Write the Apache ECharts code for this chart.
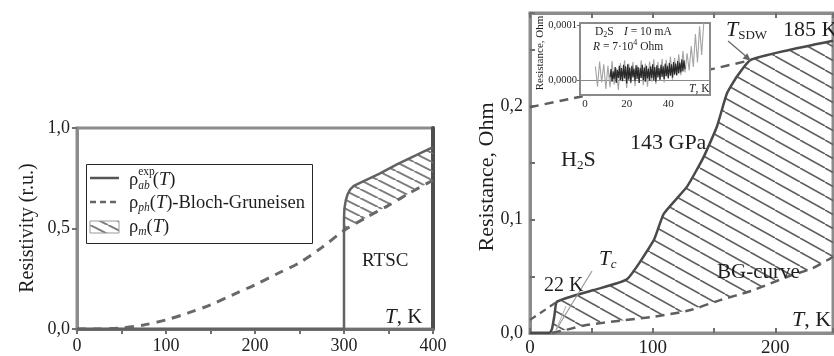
<!DOCTYPE html>
<html>
<head>
<meta charset="utf-8">
<script src="https://cdn.jsdelivr.net/npm/echarts@6/dist/echarts.min.js"></script>
<style>
  html, body { margin: 0; padding: 0; background: #fff; }
  #c { width: 834px; height: 356px; }
</style>
</head>
<body>
<div id="c"></div>
<script>
// ---------- Left panel: resistivity (relative units) vs temperature ----------
const leftExpT   = [0, 300, 300, 300.5, 302, 304, 307, 311, 318, 340, 360, 380, 400];
const leftExpRho = [0, 0, 0.55, 0.6, 0.64, 0.67, 0.695, 0.712, 0.727, 0.773, 0.82, 0.862, 0.905];
const leftBgT    = [0, 25, 50, 75, 100, 125, 150, 175, 200, 225, 250, 275, 300, 325, 350, 375, 400];
const leftBgRho  = [0, 0, 0.005, 0.02, 0.045, 0.08, 0.12, 0.17, 0.22, 0.275, 0.33, 0.405, 0.49, 0.555, 0.615, 0.68, 0.74];
const leftXTicks = [0, 100, 200, 300, 400];
const leftYTicks = [0, 0.5, 1.0];
const leftHatchFrom = 300;

// ---------- Right panel: H2S resistance at 143 GPa ----------
const rightExpT = [0, 16, 18, 20, 22, 52, 79, 101, 109, 128, 141.5, 152.4, 160.5, 168.7, 179.6, 209.5, 247];
const rightExpR = [0, 0, 0.004, 0.016, 0.0276, 0.0379, 0.0473, 0.082, 0.105, 0.129, 0.155, 0.182, 0.211, 0.226, 0.2405, 0.249, 0.2575];
const rightSdwT = [0, 40, 150, 180];
const rightSdwR = [0.199, 0.208, 0.233, 0.2405];
const rightTcT  = [0, 22];
const rightTcR  = [0.0115, 0.0276];
const rightBgT  = [18, 30, 46, 75, 101, 130, 155, 180, 210, 230, 247];
const rightBgR  = [0, 0.003, 0.007, 0.011, 0.0144, 0.02, 0.029, 0.037, 0.0496, 0.057, 0.0672];
const rightXTicks = [0, 100, 200];
const rightYTicks = [0, 0.1, 0.2];
const rightHatchFrom = 22;

// ---------- Inset: D2S, resistance in units of 1e-5 Ohm ----------
const insetLightT = [5, 6, 7, 8, 9, 10, 11, 12, 13, 14, 15, 16, 17, 18, 19, 20, 21, 22, 23, 24, 25, 26, 27, 28, 29, 30,
                     31, 32, 33, 34, 35, 36, 37, 38, 39, 40, 41, 42, 43, 44, 45, 46, 47, 48, 49, 50, 51, 52, 53, 54, 55, 56, 57];
const insetLightR = [2.5, -1.2, 3.4, -0.4, 2.9, -1.6, 2.6, -1.3, 3.5, -0.8, 2.2, -1.8, 3.1, -0.2, 3.6, -1.4, 3.0, -0.6, 3.3, -1.1, 2.8, -0.5, 3.6, -0.9, 3.0, -1.2,
                     3.4, -0.3, 3.8, -0.7, 3.3, -0.1, 3.9, -0.4, 3.7, 0.2, 4.3, 0.1, 4.0, 0.8, 4.7, 0.9, 5.3, 1.4, 4.9, 1.8, 6.2, 2.4, 8.4, 3.2, 9.8, 4.6, 10.4];
const insetDarkT = [12, 12.5, 13, 13.5, 14, 14.5, 15, 15.5, 16, 16.5, 17, 17.5, 18, 18.5, 19, 19.5, 20, 20.5, 21, 21.5, 22, 22.5, 23, 23.5, 24, 24.5,
                    25, 25.5, 26, 26.5, 27, 27.5, 28, 28.5, 29, 29.5, 30, 30.5, 31, 31.5, 32, 32.5, 33, 33.5, 34, 34.5, 35, 35.5, 36, 36.5,
                    37, 37.5, 38, 38.5, 39, 39.5, 40, 40.5, 41, 41.5, 42, 42.5, 43, 43.5, 44, 44.5, 45, 45.5, 46, 46.5, 47, 47.5, 48];
const insetDarkR = [0.5, 2.0, -0.3, 1.6, 0.2, 2.4, -0.5, 1.9, 0.4, 2.6, 0.0, 2.2, -0.2, 2.8, 0.3, 2.5, -0.6, 2.9, 0.1, 2.3, -0.4, 2.6, 0.5, 2.1, -0.2, 2.7,
                    0.2, 2.4, -0.5, 2.2, 0.4, 2.8, 0.0, 2.3, -0.3, 2.6, 0.3, 2.1, -0.1, 2.5, 0.4, 2.9, 0.0, 2.4, -0.3, 2.7, 0.5, 2.2, 0.1, 2.8,
                    0.6, 2.5, 0.2, 3.0, 0.7, 2.6, 0.4, 3.1, 0.8, 2.9, 0.5, 3.3, 1.0, 3.0, 0.9, 3.5, 1.2, 3.2, 1.4, 3.8, 1.6, 3.6, 2.0];
const insetXTicks = [0, 20, 40];
const insetYTicks = [0, 10];

// ---------- helpers ----------
const FONT = '"Liberation Serif", "Times New Roman", serif';
const zip = (xs, ys) => xs.map((x, i) => [x, ys[i]]);
const comma = (v, d) => v.toFixed(d).replace('.', ',');

function hatchPattern(w, h, color, lw) {
  const c = document.createElement('canvas');
  c.width = w; c.height = h;
  const g = c.getContext('2d');
  g.strokeStyle = color; g.lineWidth = lw; g.lineCap = 'butt';
  for (const dx of [-w, 0, w]) {
    g.beginPath(); g.moveTo(dx, 0); g.lineTo(dx + w, h); g.stroke();
  }
  return { image: c, repeat: 'repeat' };
}
const leftHatch  = hatchPattern(18, 9, '#7c7c7c', 2);
const rightHatch = hatchPattern(25, 14, '#606060', 1.6);

// polygon between an upper curve and a lower curve, from a start temperature on
function bandPolygon(upT, upV, loT, loV, from) {
  const upper = zip(upT, upV).filter(p => p[0] >= from && p[1] > 0);
  const lower = zip(loT, loV).filter(p => p[0] >= from - 4).reverse();
  return upper.concat(lower);
}

const mctx = document.createElement('canvas').getContext('2d');
function fontOf(size, italic) { return (italic ? 'italic ' : '') + size + 'px ' + FONT; }
// lays out text pieces left to right (sub/superscripts via dy)
function run(x, y, segs, color) {
  const out = []; let cx = x;
  for (const s of segs) {
    const f = fontOf(s.size, s.italic);
    out.push({ type: 'text', z: 60, silent: true,
      style: { x: cx + (s.dx || 0), y: y + (s.dy || 0), text: s.t, font: f, fill: color || '#1e1e1e',
               align: 'left', verticalAlign: 'middle' } });
    mctx.font = f;
    if (!s.hold) cx += mctx.measureText(s.t).width + (s.dx || 0);
  }
  return out;
}
function vtext(x, y, text, size) {
  return { type: 'text', z: 60, x: x, y: y, rotation: Math.PI / 2, silent: true,
    style: { x: 0, y: 0, text: text, font: fontOf(size, false), fill: '#1e1e1e', align: 'center', verticalAlign: 'middle' } };
}

const chart = echarts.init(document.getElementById('c'), null, { renderer: 'canvas', width: 834, height: 356 });

const frame = { show: true, borderColor: '#8c8c8c', borderWidth: 3, backgroundColor: 'transparent' };
const noSplit = { show: false };

const option = {
  animation: false,
  backgroundColor: '#ffffff',
  textStyle: { fontFamily: FONT },
  grid: [
    Object.assign({ left: 77, top: 128, width: 356, height: 201, outerBoundsMode: 'none', containLabel: false }, frame),
    Object.assign({ left: 530, top: 13, width: 303, height: 320, outerBoundsMode: 'none', containLabel: false }, frame),
    { left: 580, top: 23, width: 130, height: 72, show: true, borderColor: '#8a8a8a', borderWidth: 2,
      backgroundColor: '#ffffff', z: 5, outerBoundsMode: 'none', containLabel: false }
  ],
  xAxis: [
    { gridIndex: 0, type: 'value', min: 0, max: 400, interval: 50,
      axisLine: { show: true, onZero: false, lineStyle: { color: '#707070', width: 3 } },
      axisTick: { show: true, inside: false, length: 5, lineStyle: { color: '#707070', width: 2 } },
      axisLabel: { customValues: leftXTicks, formatter: v => String(v), fontSize: 18, color: '#1e1e1e', margin: 8, fontFamily: FONT },
      splitLine: noSplit },
    { gridIndex: 1, type: 'value', min: 0, max: 247, interval: 50,
      axisLine: { show: true, onZero: false, lineStyle: { color: '#8c8c8c', width: 3 } },
      axisTick: { show: true, inside: true, length: 5, lineStyle: { color: '#707070', width: 2 } },
      axisLabel: { customValues: rightXTicks, formatter: v => String(v), fontSize: 19, color: '#1e1e1e', margin: 6, fontFamily: FONT },
      splitLine: noSplit },
    { gridIndex: 1, type: 'value', position: 'top', min: 0, max: 247, interval: 50,
      axisLine: { show: true, onZero: false, lineStyle: { color: '#8c8c8c', width: 3 } },
      axisTick: { show: true, inside: true, length: 5, lineStyle: { color: '#707070', width: 2 } },
      axisLabel: { show: false }, splitLine: noSplit },
    { gridIndex: 2, type: 'value', min: -2.4, max: 60, z: 6,
      axisLine: { show: true, onZero: false, lineStyle: { color: '#8a8a8a', width: 2 } },
      axisTick: { show: false },
      axisLabel: { customValues: insetXTicks, formatter: v => String(v), fontSize: 11, color: '#1e1e1e', margin: 4, fontFamily: FONT },
      splitLine: noSplit }
  ],
  yAxis: [
    { gridIndex: 0, type: 'value', min: 0, max: 1, interval: 0.5,
      axisLine: { show: true, onZero: false, lineStyle: { color: '#8c8c8c', width: 3 } },
      axisTick: { show: true, inside: false, length: 5, lineStyle: { color: '#707070', width: 2 } },
      axisLabel: { customValues: leftYTicks, formatter: v => comma(v, 1), fontSize: 18, color: '#1e1e1e', margin: 7, fontFamily: FONT },
      splitLine: noSplit },
    { gridIndex: 0, type: 'value', position: 'right', min: 0, max: 1,
      axisLine: { show: true, onZero: false, lineStyle: { color: '#4e4e4e', width: 4 } },
      axisTick: { show: false }, axisLabel: { show: false }, splitLine: noSplit },
    { gridIndex: 1, type: 'value', min: 0, max: 0.282, interval: 0.05,
      axisLine: { show: true, onZero: false, lineStyle: { color: '#8c8c8c', width: 3 } },
      axisTick: { show: true, inside: true, length: 5, lineStyle: { color: '#707070', width: 2 } },
      axisLabel: { customValues: rightYTicks, formatter: v => comma(v, 1), fontSize: 18, color: '#1e1e1e', margin: 7, fontFamily: FONT },
      splitLine: noSplit },
    { gridIndex: 2, type: 'value', min: -2.7, max: 10.4, z: 6,
      axisLine: { show: true, onZero: false, lineStyle: { color: '#8a8a8a', width: 2 } },
      axisTick: { show: true, inside: false, length: 3, customValues: insetYTicks, lineStyle: { color: '#707070', width: 1 } },
      axisLabel: { customValues: insetYTicks, formatter: v => (v === 0 ? '0,0000' : '0,0001'), fontSize: 10.5, color: '#1e1e1e', margin: 3, fontFamily: FONT },
      splitLine: noSplit }
  ],
  series: [
    // left panel: hatched rho_m region
    { type: 'custom', xAxisIndex: 0, yAxisIndex: 0, z: 1, silent: true, data: [0],
      renderItem: (params, api) => ({
        type: 'polygon',
        shape: { points: bandPolygon(leftExpT, leftExpRho, leftBgT, leftBgRho, leftHatchFrom).map(p => api.coord(p)) },
        style: { fill: leftHatch, stroke: null }
      }) },
    { type: 'line', xAxisIndex: 0, yAxisIndex: 0, data: zip(leftBgT, leftBgRho), smooth: 0.3, symbol: 'none',
      lineStyle: { color: '#686868', width: 3, type: [9, 7] } },
    { type: 'line', xAxisIndex: 0, yAxisIndex: 0, data: zip(leftExpT, leftExpRho), smooth: false, symbol: 'none',
      lineStyle: { color: '#626262', width: 2.5 } },

    // right panel: hatched region between data and BG-curve
    { type: 'custom', xAxisIndex: 1, yAxisIndex: 2, z: 1, silent: true, data: [0],
      renderItem: (params, api) => ({
        type: 'polygon',
        shape: { points: bandPolygon(rightExpT, rightExpR, rightBgT, rightBgR, rightHatchFrom).map(p => api.coord(p)) },
        style: { fill: rightHatch, stroke: null }
      }) },
    { type: 'line', xAxisIndex: 1, yAxisIndex: 2, data: zip(rightBgT, rightBgR), smooth: 0.3, symbol: 'none',
      lineStyle: { color: '#5e5e5e', width: 2.5, type: [9, 6] } },
    { type: 'line', xAxisIndex: 1, yAxisIndex: 2, data: zip(rightSdwT, rightSdwR), smooth: 0.2, symbol: 'none',
      lineStyle: { color: '#5e5e5e', width: 2.5, type: [9, 6] } },
    { type: 'line', xAxisIndex: 1, yAxisIndex: 2, data: zip(rightTcT, rightTcR), symbol: 'none',
      lineStyle: { color: '#5e5e5e', width: 2.2, type: [7, 5] } },
    { type: 'line', xAxisIndex: 1, yAxisIndex: 2, data: zip(rightExpT, rightExpR), smooth: 0.15, symbol: 'none',
      lineStyle: { color: '#4a4a4a', width: 2.5 } },

    // inset traces
    { type: 'line', xAxisIndex: 3, yAxisIndex: 3, z: 7, data: zip(insetLightT, insetLightR), symbol: 'none',
      lineStyle: { color: '#a4a4a4', width: 1.1 },
      markLine: { silent: true, symbol: 'none', label: { show: false }, lineStyle: { color: '#8a8a8a', width: 1.2, type: 'solid' },
                  data: [{ yAxis: 0 }] } },
    { type: 'line', xAxisIndex: 3, yAxisIndex: 3, z: 8, data: zip(insetDarkT, insetDarkR), symbol: 'none',
      lineStyle: { color: '#2a2a2a', width: 1.2 } }
  ],
  graphic: []
};

// legend of the left panel
const legend = [
  { type: 'rect', z: 50, silent: true, shape: { x: 86.5, y: 164.5, width: 226, height: 79 },
    style: { fill: '#ffffff', stroke: '#262626', lineWidth: 1 } },
  { type: 'line', z: 55, silent: true, shape: { x1: 90, y1: 178, x2: 119, y2: 178 }, style: { stroke: '#555', lineWidth: 2.5 } },
  { type: 'line', z: 55, silent: true, shape: { x1: 90, y1: 202, x2: 119, y2: 202 }, style: { stroke: '#666', lineWidth: 2.5, lineDash: [6, 4] } },
  { type: 'rect', z: 55, silent: true, shape: { x: 90, y: 221, width: 29, height: 12 }, style: { fill: leftHatch, stroke: '#9a9a9a', lineWidth: 1 } }
]
  .concat(run(129, 180, [{ t: 'ρ', size: 18.5 }, { t: 'exp', size: 11.5, dy: -8, hold: true }, { t: 'ab', size: 11.5, italic: true, dy: 6 },
                          { t: '(', size: 18.5, dx: 3 }, { t: 'T', size: 18.5, italic: true }, { t: ')', size: 18.5 }]))
  .concat(run(129, 203, [{ t: 'ρ', size: 18.5 }, { t: 'ph', size: 11.5, italic: true, dy: 5 }, { t: '(', size: 18.5 },
                          { t: 'T', size: 18.5, italic: true }, { t: ')-Bloch-Gruneisen', size: 18.5 }]))
  .concat(run(129, 227, [{ t: 'ρ', size: 18.5 }, { t: 'm', size: 11.5, italic: true, dy: 5 }, { t: '(', size: 18.5 },
                          { t: 'T', size: 18.5, italic: true }, { t: ')', size: 18.5 }]));

// annotations
const notes = []
  .concat([vtext(28, 228, 'Resistivity (r.u.)', 20)])
  .concat(run(362, 261, [{ t: 'RTSC', size: 19 }]))
  .concat(run(385, 317, [{ t: 'T', size: 21, italic: true }, { t: ', K', size: 21 }]))
  .concat([vtext(487, 177, 'Resistance, Ohm', 22)])
  .concat([vtext(540, 53, 'Resistance, Ohm', 11)])
  .concat(run(595, 32, [{ t: 'D', size: 11.5 }, { t: '2', size: 8, dy: 3 }, { t: 'S', size: 11.5 }]))
  .concat(run(624, 32, [{ t: 'I', size: 11.5, italic: true }, { t: ' = 10 mA', size: 11.5 }]))
  .concat(run(593, 47, [{ t: 'R', size: 11.5, italic: true }, { t: ' = 7·10', size: 11.5 }, { t: '4', size: 8, dy: -4 }, { t: ' Ohm', size: 11.5 }]))
  .concat(run(689, 89, [{ t: 'T', size: 11.5, italic: true }, { t: ', K', size: 11.5 }]))
  .concat(run(726, 30, [{ t: 'T', size: 22, italic: true }, { t: 'SDW', size: 13, dy: 6 }]))
  .concat(run(783, 30, [{ t: '185 K', size: 22 }]))
  .concat(run(630, 143, [{ t: '143 GPa', size: 22 }]))
  .concat(run(561, 160, [{ t: 'H', size: 22 }, { t: '2', size: 13, dy: 6 }, { t: 'S', size: 22 }]))
  .concat(run(717, 272, [{ t: 'BG-curve', size: 21 }]))
  .concat(run(544, 286, [{ t: '22 K', size: 20 }]))
  .concat(run(599, 259, [{ t: 'T', size: 21, italic: true }, { t: 'c', size: 13, italic: true, dy: 6 }]))
  .concat(run(792, 320, [{ t: 'T', size: 22, italic: true }, { t: ', K', size: 22 }]))
  .concat([
    // pointer from T_SDW label
    { type: 'line', z: 55, silent: true, shape: { x1: 728, y1: 41, x2: 748, y2: 58 }, style: { stroke: '#666', lineWidth: 1.2 } },
    { type: 'polygon', z: 55, silent: true, shape: { points: [[751, 61], [742.6, 58.4], [747.2, 53.2]] }, style: { fill: '#666' } },
    // pointers from T_c label down to the transition
    { type: 'line', z: 55, silent: true, shape: { x1: 592, y1: 271, x2: 556, y2: 330 }, style: { stroke: '#9a9a9a', lineWidth: 1.2 } },
    { type: 'line', z: 55, silent: true, shape: { x1: 556, y1: 330, x2: 566, y2: 306 }, style: { stroke: '#b0b0b0', lineWidth: 1 } }
  ]);

option.graphic = legend.concat(notes);
chart.setOption(option);
</script>
</body>
</html>
